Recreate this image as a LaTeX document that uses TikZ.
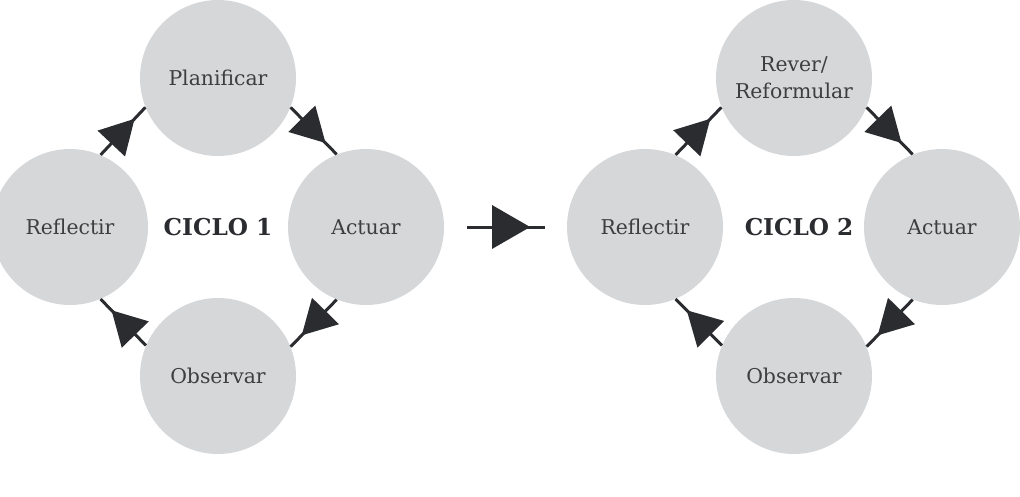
\documentclass[tikz,border=0pt]{standalone}
\usepackage{fontspec}
\setmainfont{DejaVu Serif}
\usetikzlibrary{
    positioning,
    arrows.meta,
    decorations.markings
}
\definecolor{circulo}{HTML}{D5D7D9}
\definecolor{trazo}{HTML}{2B2C30}
\definecolor{letra}{HTML}{3E3E3E}
\tikzset{
    > = {Triangle[length=6.8mm, width=7.4mm]},
    etapa/.style = {circle, fill=circulo, minimum size=31.2mm, inner sep=0pt,
        text=letra, align=center, font=\fontsize{11.6}{15.4}\selectfont},
    titulo/.style = {text=trazo, font=\bfseries\fontsize{13.2}{15}\selectfont},
    flecha/.style = {draw=trazo, line width=0.6mm, postaction={decorate},
        decoration={markings, mark=at position #1 with {\arrow[trazo]{>}}}},
    flecha/.default = 0.76,
}

\begin{document}
\begin{tikzpicture}
\useasboundingbox (0,0) rectangle (20.4,9.92);

% ciclo 1
\node[etapa] (plan1) at (4.36,8.36) {Planificar};
\node[etapa] (act1)  at (7.32,5.38) {Actuar};
\node[etapa] (obs1)  at (4.36,2.40) {Observar};
\node[etapa] (refl1) at (1.40,5.38) {Reflectir};
\node[titulo] (ciclo1) at (4.36,5.38) {CICLO 1};

\draw[flecha] (plan1.-22.5) -- (act1.112.5);
\draw[flecha] (act1.-112.5) -- (obs1.22.5);
\draw[flecha] (obs1.157.5) -- (refl1.-67.5);
\draw[flecha] (refl1.67.5) -- (plan1.202.5);

% ciclo 2
\node[etapa] (rev2)  at (15.88,8.36) {Rever/\\Reformular};
\node[etapa] (act2)  at (18.84,5.38) {Actuar};
\node[etapa] (obs2)  at (15.88,2.40) {Observar};
\node[etapa] (refl2) at (12.90,5.38) {Reflectir};
\node[titulo] (ciclo2) at (15.98,5.38) {CICLO 2};

\draw[flecha] (rev2.-22.5) -- (act2.112.5);
\draw[flecha] (act2.-112.5) -- (obs2.22.5);
\draw[flecha] (obs2.157.5) -- (refl2.-67.5);
\draw[flecha] (refl2.67.5) -- (rev2.202.5);

% paso de un ciclo al otro
\coordinate (ini) at (9.34,5.38);
\coordinate (fin) at (10.90,5.38);
\draw[flecha=0.81, > = {Triangle[length=7.6mm, width=8.6mm]}] (ini) -- (fin);
\end{tikzpicture}
\end{document}
